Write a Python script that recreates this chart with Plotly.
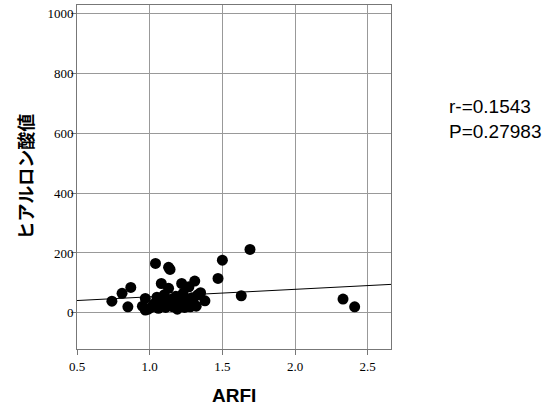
import plotly.graph_objects as go

# ARFI vs hyaluronic acid
arfi = [0.74, 0.81, 0.87, 0.85, 0.95, 0.97, 0.97, 0.99, 1.01, 1.03,
        1.04, 1.05, 1.06, 1.07, 1.08, 1.09, 1.10, 1.11, 1.12, 1.13,
        1.14, 1.13, 1.15, 1.16, 1.17, 1.18, 1.19, 1.20, 1.21, 1.22,
        1.23, 1.24, 1.25, 1.26, 1.27, 1.28, 1.29, 1.30, 1.31, 1.32,
        1.33, 1.35, 1.38, 1.47, 1.50, 1.63, 1.69, 2.33, 2.41]
ha = [39, 65, 85, 20, 22, 48, 9, 12, 18, 30,
      165, 52, 15, 40, 98, 25, 60, 18, 35, 152,
      145, 82, 45, 20, 30, 55, 12, 40, 25, 98,
      65, 18, 45, 30, 87, 20, 50, 35, 106, 22,
      60, 67, 40, 115, 176, 57, 212, 46, 20]

# regression line
slope = 25.0
intercept = 28.5
fit_x = [0.5, 2.66]
fit_y = [intercept + slope * v for v in fit_x]

x_ticks = [0.5, 1.0, 1.5, 2.0, 2.5]
x_labels = ['0.5', '1.0', '1.5', '2.0', '2.5']
y_ticks = [0, 200, 400, 600, 800, 1000]

stats_text = 'r-=0.1543<br>P=0.27983'

fig = go.Figure()
fig.add_trace(go.Scatter(x=fit_x, y=fit_y, mode='lines',
                         line=dict(color='black', width=1), hoverinfo='skip'))
fig.add_trace(go.Scatter(x=arfi, y=ha, mode='markers',
                         marker=dict(color='black', size=11)))

axis_common = dict(showline=True, linecolor='#777', linewidth=1, mirror=True,
                   showgrid=True, gridcolor='#999', gridwidth=1,
                   ticks='outside', ticklen=5, tickcolor='#777', zeroline=False,
                   automargin=False,
                   tickfont=dict(family='Liberation Serif', size=13, color='black'))

fig.update_layout(
    width=554, height=409,
    margin=dict(l=77, r=163, t=5, b=60),
    paper_bgcolor='white', plot_bgcolor='white',
    showlegend=False,
    xaxis=dict(range=[0.5, 2.66], tickvals=x_ticks, ticktext=x_labels,
               **axis_common),
    yaxis=dict(range=[-121, 1029], tickvals=y_ticks, ticklabelstandoff=-5,
               **axis_common),
)

# axis titles
fig.add_annotation(text='<b>ARFI</b>', xref='paper', yref='paper',
                   x=0.5, y=-0.134, xanchor='center', yanchor='middle',
                   showarrow=False,
                   font=dict(family='Liberation Sans', size=19, color='black'))
fig.add_annotation(text='<b>ヒアルロン酸値</b>', xref='paper', yref='paper',
                   x=-0.167, y=0.5, xanchor='center', yanchor='middle',
                   textangle=-90, showarrow=False,
                   font=dict(family='Noto Sans CJK JP', size=18, color='black'))

fig.add_annotation(text=stats_text, xref='paper', yref='paper',
                   x=1.179, y=0.669, xanchor='left', yanchor='middle',
                   showarrow=False, align='left',
                   font=dict(family='Liberation Sans', size=19, color='black'))

fig.write_html("out.html", config={'displayModeBar': False},
               post_script="document.body.style.margin='0';")
